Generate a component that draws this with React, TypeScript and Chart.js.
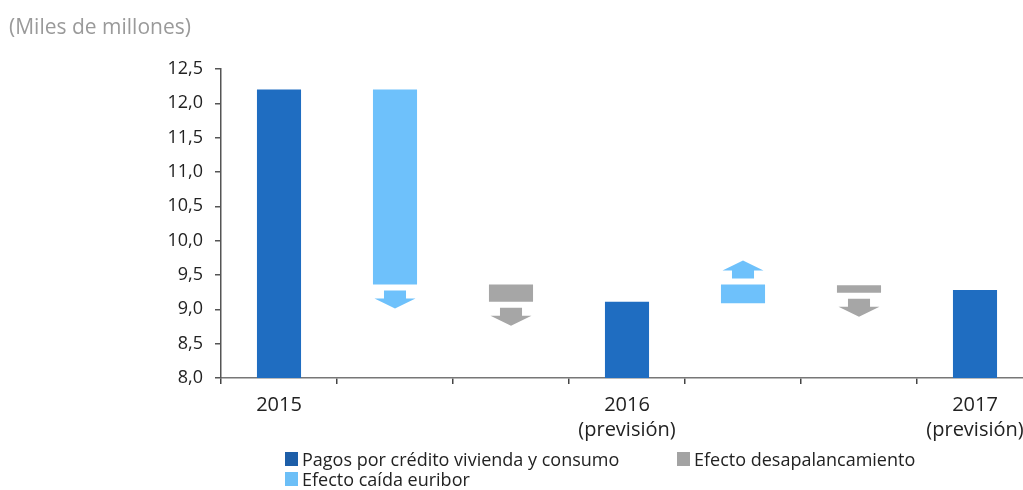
import React, { useEffect, useRef } from "react";
import { Chart, registerables } from "chart.js";

Chart.register(...registerables);

// ---- Data ----
const categories: string[][] = [
  ["2015"],
  [""],
  [""],
  ["2016", "(previsión)"],
  [""],
  [""],
  ["2017", "(previsión)"],
];

// floating bars as [start, end]; arrow direction follows start -> end
const pagos: ([number, number] | null)[] = [[8, 12.2], null, null, [8, 9.11], null, null, [8, 9.28]];
const euribor: ([number, number] | null)[] = [null, [12.2, 9.36], null, null, [9.09, 9.36], null, null];
const desapalancamiento: ([number, number] | null)[] = [null, null, [9.36, 9.11], null, null, [9.35, 9.24], null];

const seriesNames = [
  "Pagos por crédito vivienda y consumo",
  "Efecto caída euribor",
  "Efecto desapalancamiento",
];

const yMin = 8;
const yMax = 12.5;
const yStep = 0.5;

const unitLabel = "(Miles de millones)";

// ---- Styles ----
const FONT = "'Open Sans', 'Noto Sans', sans-serif";
const C_DARK = "#1f6dc1";
const C_LIGHT = "#6ec1fb";
const C_GRAY = "#a6a6a6";
const LEG_DARK = "#1d5ea8";
const LEG_LIGHT = "#6cbff7";
const LEG_GRAY = "#a3a3a3";

const arrowPlugin = {
  id: "waterfallArrows",
  afterDatasetsDraw(chart: any) {
    const ctx = chart.ctx;
    chart.data.datasets.forEach((ds: any, i: number) => {
      if (!ds.arrows) return;
      const meta = chart.getDatasetMeta(i);
      meta.data.forEach((el: any, j: number) => {
        const raw = ds.data[j];
        if (!raw) return;
        const { x, y, base, width } = el.getProps(["x", "y", "base", "width"], true);
        const top = Math.min(y, base);
        const bottom = Math.max(y, base);
        const down = raw[1] < raw[0];
        const gap = 6;
        const shaft = 8;
        const head = 10;
        const sw = width * 0.5;
        const hw = width * 0.93;
        const dir = down ? 1 : -1;
        const s = down ? bottom + gap : top - gap;
        ctx.save();
        ctx.fillStyle = ds.backgroundColor;
        ctx.beginPath();
        ctx.moveTo(x - sw / 2, s);
        ctx.lineTo(x + sw / 2, s);
        ctx.lineTo(x + sw / 2, s + dir * shaft);
        ctx.lineTo(x + hw / 2, s + dir * shaft);
        ctx.lineTo(x, s + dir * (shaft + head));
        ctx.lineTo(x - hw / 2, s + dir * shaft);
        ctx.lineTo(x - sw / 2, s + dir * shaft);
        ctx.closePath();
        ctx.fill();
        ctx.restore();
      });
    });
  },
};

export default function App() {
  const ref = useRef<HTMLCanvasElement | null>(null);

  useEffect(() => {
    document.documentElement.style.overflow = "hidden";
    document.body.style.overflow = "hidden";
    if (!ref.current) return;
    const chart = new Chart(ref.current, {
      type: "bar",
      data: {
        labels: categories,
        datasets: [
          {
            label: seriesNames[0],
            data: pagos as any,
            backgroundColor: C_DARK,
            grouped: false,
            barPercentage: 0.38,
            categoryPercentage: 1,
          } as any,
          {
            label: seriesNames[1],
            data: euribor as any,
            backgroundColor: C_LIGHT,
            grouped: false,
            barPercentage: 0.38,
            categoryPercentage: 1,
            arrows: true,
          } as any,
          {
            label: seriesNames[2],
            data: desapalancamiento as any,
            backgroundColor: C_GRAY,
            grouped: false,
            barPercentage: 0.38,
            categoryPercentage: 1,
            arrows: true,
          } as any,
        ],
      },
      options: {
        responsive: false,
        animation: false,
        layout: { padding: { top: 61, right: 5, left: 0, bottom: 0 } },
        plugins: {
          legend: { display: false },
          tooltip: { enabled: false },
          title: { display: false },
        },
        scales: {
          x: {
            afterFit: (scale: any) => {
              scale.height = 112;
            },
            border: { display: true, color: "#777", width: 1.5 },
            grid: {
              display: true,
              drawOnChartArea: false,
              drawTicks: true,
              tickLength: 6,
              offset: true,
              color: "#444",
              lineWidth: 1.5,
            },
            ticks: {
              autoSkip: false,
              maxRotation: 0,
              padding: 9,
              color: "#222",
              font: { family: FONT, size: 20, lineHeight: 1.25 },
            },
          },
          y: {
            min: yMin,
            max: yMax,
            afterFit: (scale: any) => {
              scale.width = 213;
            },
            border: { display: true, color: "#555", width: 1.5 },
            grid: {
              display: true,
              drawOnChartArea: false,
              drawTicks: true,
              tickLength: 6,
              color: "#555",
              lineWidth: 1.5,
            },
            ticks: {
              stepSize: yStep,
              padding: 12,
              color: "#222",
              font: { family: FONT, size: 18 },
              callback: (v: any) => Number(v).toFixed(1).replace(".", ","),
            },
          },
        },
      },
      plugins: [arrowPlugin],
    });
    return () => chart.destroy();
  }, []);

  const legendItem = (color: string, text: string, left: number, top: number) => (
    <div
      key={text}
      style={{
        position: "absolute",
        left,
        top,
        height: 20,
        display: "flex",
        alignItems: "center",
        whiteSpace: "nowrap",
        fontFamily: FONT,
        fontSize: 18,
        color: "#222",
      }}
    >
      <span style={{ display: "inline-block", width: 13, height: 14, background: color, marginRight: 4 }} />
      <span>{text}</span>
    </div>
  );

  return (
    <div
      style={{
        position: "fixed",
        left: 8,
        top: 8,
        width: 1015,
        height: 482,
        overflow: "hidden",
        background: "#fff",
      }}
    >
      <canvas ref={ref} width={1030} height={482} style={{ position: "absolute", left: 0, top: 0 }} />
      <div
        style={{
          position: "absolute",
          left: 1,
          top: 6,
          fontFamily: FONT,
          fontSize: 21,
          lineHeight: "24px",
          color: "#9a9a9a",
          whiteSpace: "nowrap",
        }}
      >
        {unitLabel}
      </div>
      {legendItem(LEG_DARK, seriesNames[0], 277, 441)}
      {legendItem(LEG_LIGHT, seriesNames[1], 277, 461)}
      {legendItem(LEG_GRAY, seriesNames[2], 669, 441)}
    </div>
  );
}
